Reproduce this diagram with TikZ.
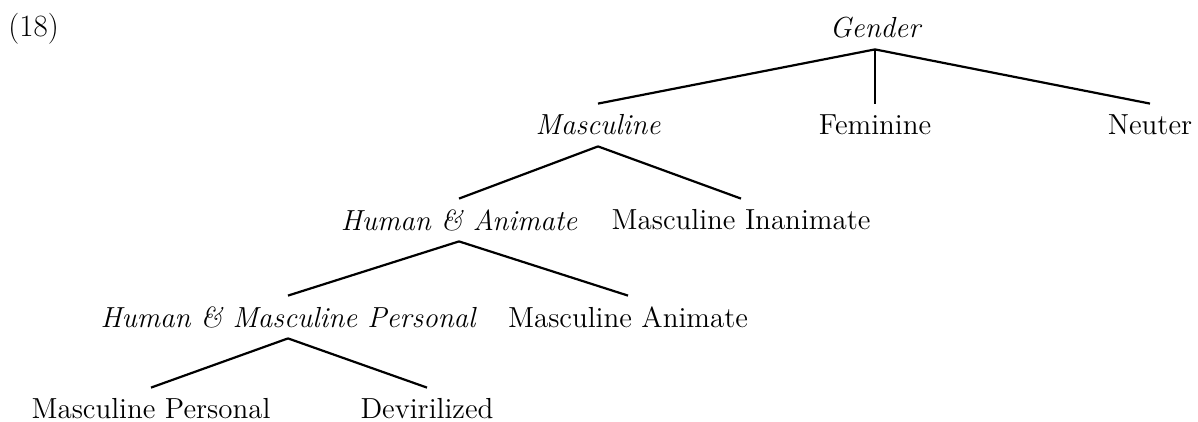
\documentclass[tikz,border=0pt]{standalone}
\usepackage{fontspec}
\usetikzlibrary{positioning}

\tikzset{
  cat/.style={inner sep=0pt,minimum height=21pt,font=\fontsize{14.5}{17}\selectfont},
  icat/.style={cat,font=\fontsize{14.5}{17}\selectfont\itshape},
  branch/.style={line width=1.1pt}
}

\begin{document}
\begin{tikzpicture}[x=0.5pt,y=-0.5pt]
      \useasboundingbox (0,0) rectangle (1198,422);
      \node[cat,anchor=west,font=\fontsize{15.5}{18}\selectfont] (num) at (8,29) {(18)};

      \node[icat] (gender) at (875,28) {Gender};
      \node[icat] (masc) at (598,125) {Masculine};
      \node[cat] (fem) at (875,125) {Feminine};
      \node[cat] (neut) at (1150,125) {Neuter};
      \node[icat] (humanim) at (459,220) {Human \& Animate};
      \node[cat] (mascinan) at (741,220) {Masculine Inanimate};
      \node[icat] (hmp) at (288,317) {Human \& Masculine Personal};
      \node[cat] (mascanim) at (628,317) {Masculine Animate};
      \node[cat] (mascpers) at (151,409) {Masculine Personal};
      \node[cat] (devir) at (427,409) {Devirilized};

      \draw[branch] (gender.south) -- (masc.north);
      \draw[branch] (gender.south) -- (fem.north);
      \draw[branch] (gender.south) -- (neut.north);
      \draw[branch] (masc.south) -- (humanim.north);
      \draw[branch] (masc.south) -- (mascinan.north);
      \draw[branch] (humanim.south) -- (hmp.north);
      \draw[branch] (humanim.south) -- (mascanim.north);
      \draw[branch] (hmp.south) -- (mascpers.north);
      \draw[branch] (hmp.south) -- (devir.north);
    \end{tikzpicture}
\end{document}
